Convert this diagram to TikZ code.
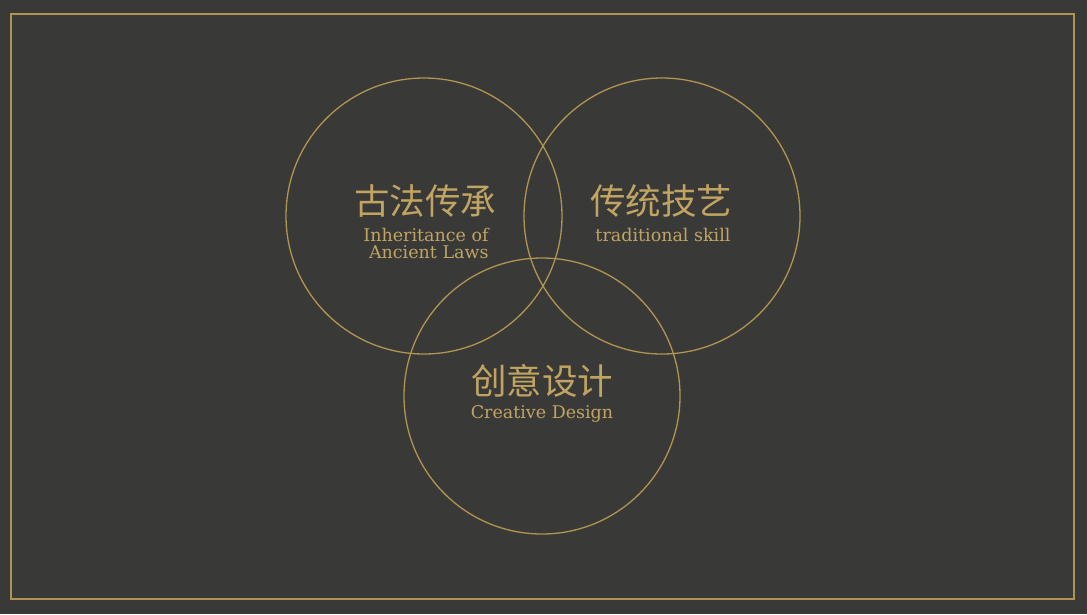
\documentclass[tikz,border=0pt]{standalone}
\usepackage{fontspec}
\setmainfont{DejaVu Serif}
\newfontfamily\cjk{Noto Sans CJK SC}[Scale=1]
\definecolor{bg}{HTML}{393A38}
\definecolor{gold}{HTML}{C2A462}
\definecolor{goldline}{HTML}{B0944F}
\begin{document}
\begin{tikzpicture}[x=1pt,y=-1pt,
  ring/.style={draw=goldline,line width=1.3pt},
  zh/.style={text=gold,font=\cjk\fontsize{35.5}{38}\selectfont,inner sep=0pt},
  en/.style={text=gold,font=\fontsize{17.5}{17}\selectfont,inner sep=0pt,align=center}]
\fill[bg] (0,0) rectangle (1087,614);
\useasboundingbox (0,0) rectangle (1087,614);
\draw[goldline,line width=1.6pt] (11,14) rectangle (1074,599);
\node[ring,circle,minimum size=276pt,inner sep=0pt] (c1) at (424,216) {};
\node[ring,circle,minimum size=276pt,inner sep=0pt] (c2) at (662,216) {};
\node[ring,circle,minimum size=276pt,inner sep=0pt] (c3) at (542,396) {};
\node[zh] (t1) at (425,201) {古法传承};
\node[en] (e1) at (426,243) {Inheritance of\\\ Ancient Laws};
\node[zh] (t2) at (661,201) {传统技艺};
\node[en] (e2) at (663,235) {traditional skill};
\node[zh] (t3) at (542,381) {创意设计};
\node[en] (e3) at (542,414) {Creative Design};
\end{tikzpicture}
\end{document}
